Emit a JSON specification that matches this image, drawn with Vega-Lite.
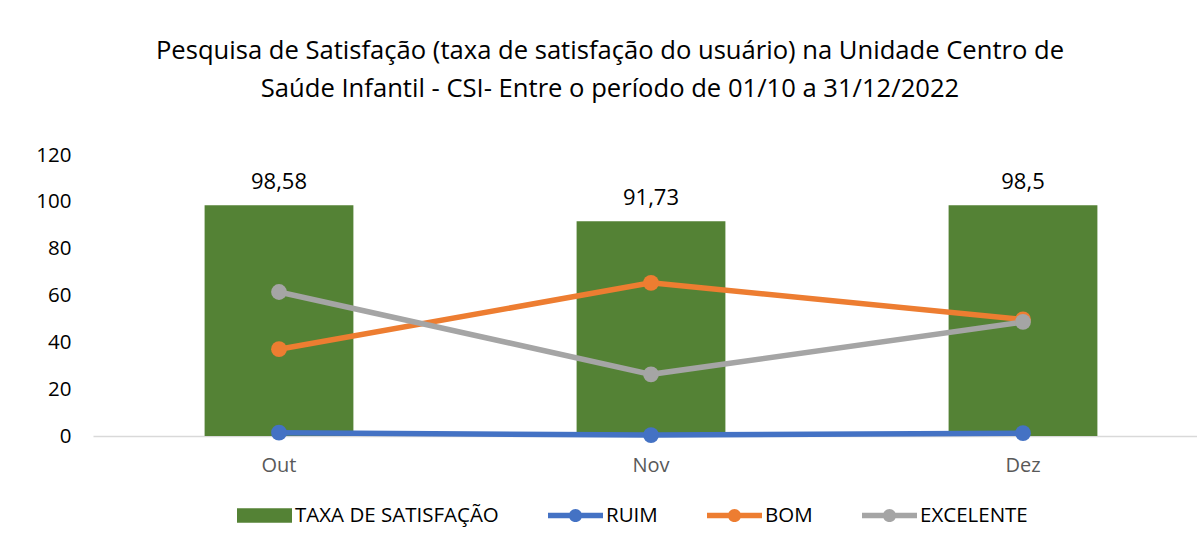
{
  "$schema": "https://vega.github.io/schema/vega-lite/v6.json",
  "width": 1104,
  "height": 281,
  "autosize": {"type": "none"},
  "padding": {"left": 93, "top": 155, "right": 0, "bottom": 116},
  "background": "white",
  "config": {
    "view": {"stroke": null},
    "font": "Open Sans",
    "locale": {"number": {"decimal": ",", "thousands": ".", "grouping": [3], "currency": ["R$", ""]}}
  },
  "title": {
    "text": ["Pesquisa de Satisfação (taxa de satisfação do usuário) na Unidade Centro de", "Saúde Infantil - CSI- Entre o período de 01/10 a 31/12/2022"],
    "fontSize": 25.6,
    "fontWeight": "normal",
    "font": "Open Sans",
    "color": "#000000",
    "lineHeight": 38,
    "offset": 42,
    "dx": -35,
    "anchor": "middle",
    "frame": "group"
  },
  "data": {
    "values": [
      {"mes": "Out", "serie": "TAXA DE SATISFAÇÃO", "valor": 98.58},
      {"mes": "Nov", "serie": "TAXA DE SATISFAÇÃO", "valor": 91.73},
      {"mes": "Dez", "serie": "TAXA DE SATISFAÇÃO", "valor": 98.5},
      {"mes": "Out", "serie": "RUIM", "valor": 1.42},
      {"mes": "Nov", "serie": "RUIM", "valor": 0.4},
      {"mes": "Dez", "serie": "RUIM", "valor": 1.2},
      {"mes": "Out", "serie": "BOM", "valor": 37.08},
      {"mes": "Nov", "serie": "BOM", "valor": 65.4},
      {"mes": "Dez", "serie": "BOM", "valor": 49.8},
      {"mes": "Out", "serie": "EXCELENTE", "valor": 61.5},
      {"mes": "Nov", "serie": "EXCELENTE", "valor": 26.33},
      {"mes": "Dez", "serie": "EXCELENTE", "valor": 48.7}
    ]
  },
  "encoding": {
    "x": {
      "field": "mes",
      "type": "nominal",
      "sort": ["Out", "Nov", "Dez"],
      "scale": {"paddingInner": 0.6, "paddingOuter": 0.3, "range": [0, 1116]},
      "axis": {"title": null, "labelAngle": 0, "labelFontSize": 20, "labelColor": "#595959", "domainColor": "#D9D9D9", "domainWidth": 1.5, "ticks": false, "labelPadding": 19}
    },
    "y": {
      "field": "valor",
      "type": "quantitative",
      "scale": {"domain": [0, 120], "nice": false},
      "axis": {"title": null, "values": [0, 20, 40, 60, 80, 100, 120], "domain": false, "ticks": false, "grid": false, "labelFontSize": 20.5, "labelColor": "#000000", "labelPadding": 22}
    },
    "color": {
      "field": "serie",
      "type": "nominal",
      "scale": {"domain": ["TAXA DE SATISFAÇÃO", "RUIM", "BOM", "EXCELENTE"], "range": ["#548235", "#4472C4", "#ED7D31", "#A5A5A5"]},
      "legend": {
        "title": null,
        "orient": "none",
        "direction": "horizontal",
        "legendX": 144,
        "legendY": 333,
        "labelFontSize": 20.5,
        "labelColor": "#000000",
        "labelFont": "Open Sans",
        "labelLimit": 0,
        "labelOffset": 3,
        "columnPadding": 49,
        "symbolSize": 3025,
        "encode": {
          "symbols": {
            "update": {
              "shape": {"signal": "datum.value === 'TAXA DE SATISFAÇÃO' ? 'M-1,-0.26H1V0.26H-1Z' : 'M-1,-0.1H1V0.1H-1Z M-0.24,0A0.24,0.24 0 1,1 0.24,0A0.24,0.24 0 1,1 -0.24,0Z'"},
              "fill": {"signal": "scale('color', datum.value)"},
              "stroke": {"value": "transparent"},
              "strokeWidth": {"value": 0},
              "opacity": {"value": 1},
              "fillOpacity": {"value": 1}
            }
          }
        }
      }
    }
  },
  "layer": [
    {
      "transform": [{"filter": "datum.serie === 'TAXA DE SATISFAÇÃO'"}],
      "mark": {"type": "bar"}
    },
    {
      "transform": [{"filter": "datum.serie === 'TAXA DE SATISFAÇÃO'"}],
      "mark": {"type": "text", "baseline": "bottom", "dy": -11, "fontSize": 22, "color": "#000000", "font": "Open Sans"},
      "encoding": {
        "text": {"field": "valor", "type": "quantitative", "format": "~g"},
        "color": {"value": "#000000"}
      }
    },
    {
      "transform": [{"filter": "datum.serie !== 'TAXA DE SATISFAÇÃO'"}],
      "mark": {"type": "line", "strokeWidth": 5.5}
    },
    {
      "transform": [{"filter": "datum.serie !== 'TAXA DE SATISFAÇÃO'"}],
      "mark": {"type": "point", "filled": true, "size": 250, "opacity": 1}
    }
  ]
}
